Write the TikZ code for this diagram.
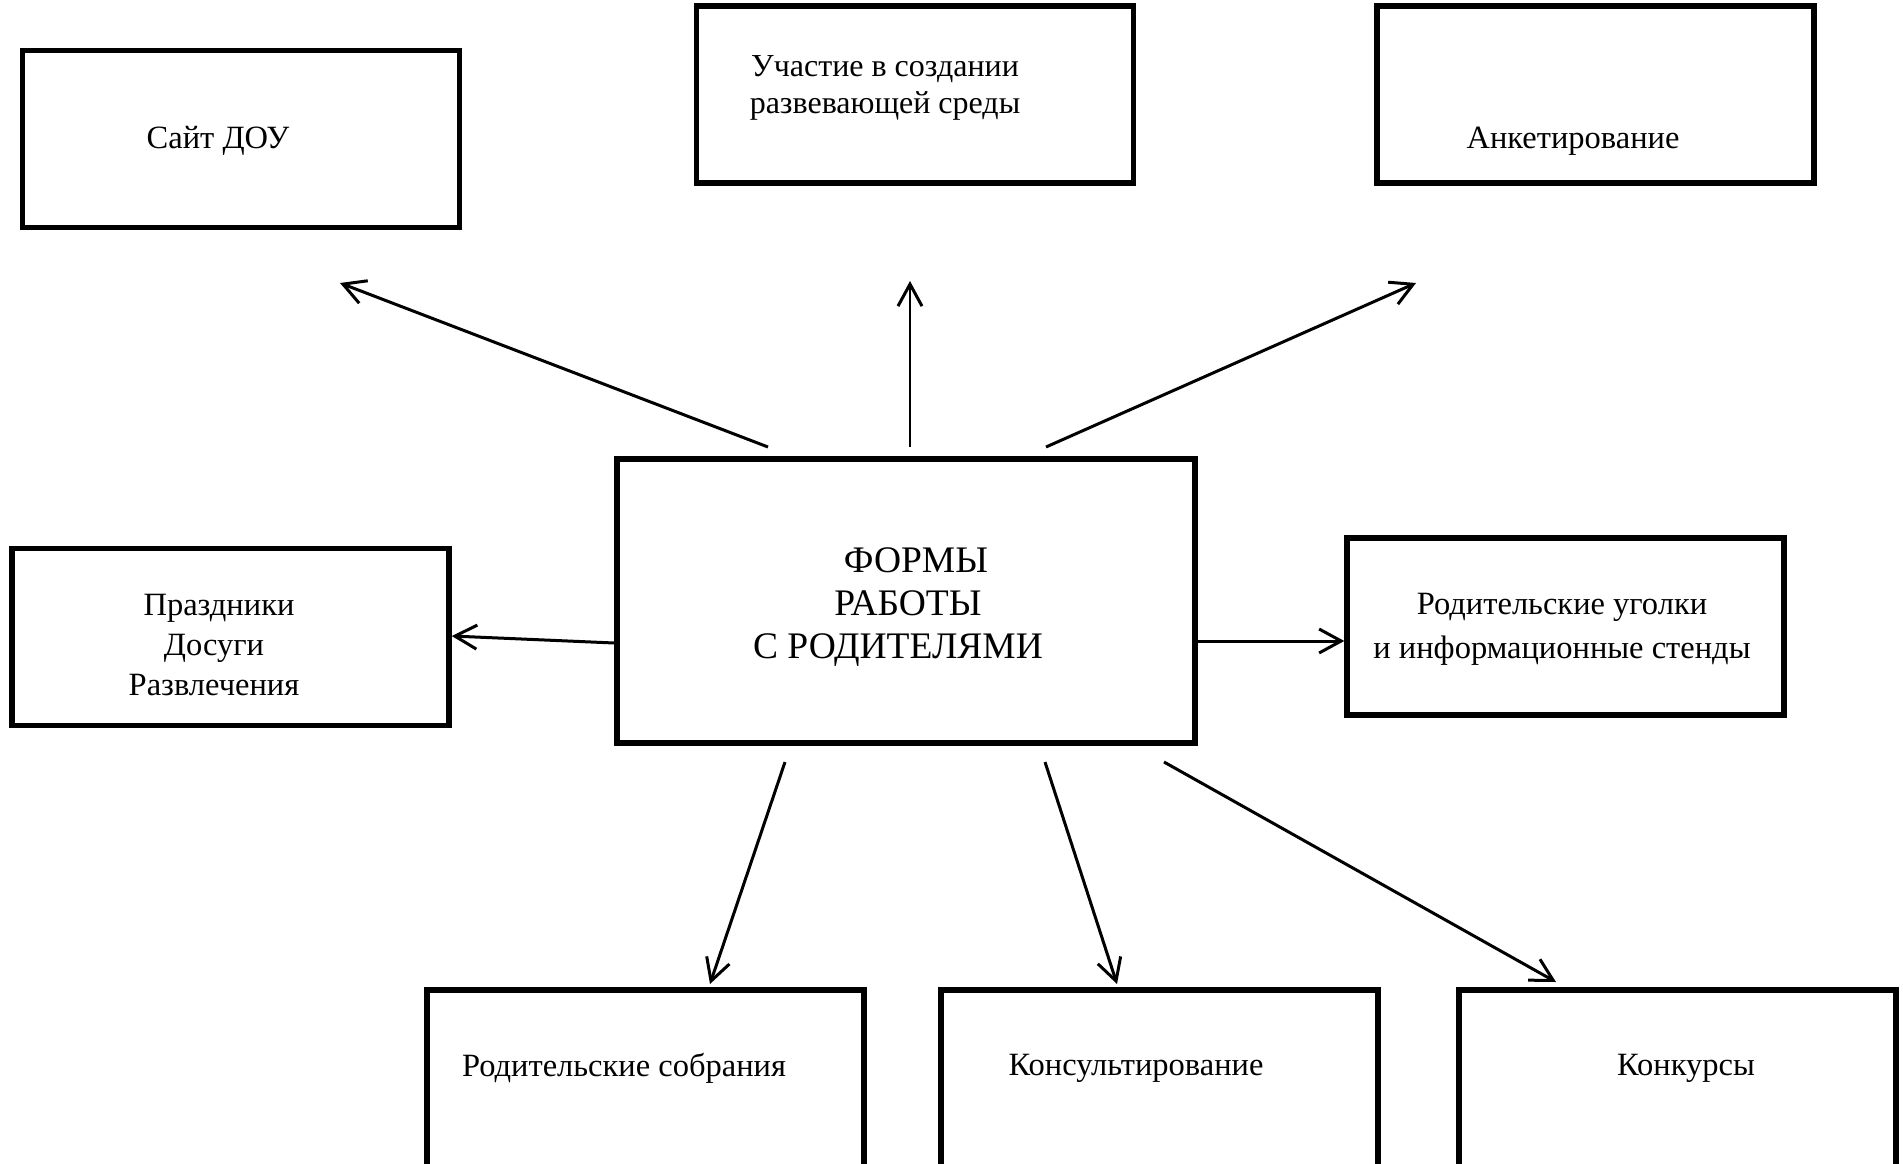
\documentclass[tikz,border=0pt]{standalone}
\usepackage{fontspec}
\setmainfont{Liberation Serif}
\usetikzlibrary{arrows.meta}
\begin{document}
\begin{tikzpicture}[x=1pt,y=-1pt,
  box/.style={draw,line width=5.5pt,inner sep=0pt,minimum width=437pt,minimum height=177pt},
  txt/.style={font=\fontsize{32.5}{40}\selectfont,align=center,inner sep=0pt},
  arr/.style={line width=3pt,-{Straight Barb[length=22pt,width=24pt,line width=3pt]}}]
\clip (0,0) rectangle (1903,1164);
\fill[white] (0,0) rectangle (1903,1164);
% boxes
\node[box] (sait) at (241,139) {};
\node[box] (uch) at (915,94.5) {};
\node[box] (ank) at (1595.5,94.5) {};
\node[box,minimum width=578pt,minimum height=284pt] (c) at (906,601) {};
\node[box] (pr) at (230.5,637) {};
\node[box] (ug) at (1565.5,626.5) {};
\node[box,minimum height=260pt] (sob) at (645.5,1120) {};
\node[box,minimum height=260pt] (kons) at (1159.5,1120) {};
\node[box,minimum height=260pt] (konk) at (1677.5,1120) {};
% texts
\node[txt] (tsait) at (218,141) {Сайт ДОУ};
\node[txt,font=\fontsize{32}{37}\selectfont] (tuch) at (885,87.5) {Участие в создании\\развевающей среды};
\node[txt] (tank) at (1573,141) {Анкетирование};
\node[txt,font=\fontsize{37.5}{43}\selectfont] (tc) at (898,607) {\hspace*{36pt}ФОРМЫ\\\hspace*{20pt}РАБОТЫ\\С РОДИТЕЛЯМИ};
\node[txt] (tpr) at (214,645) {\hspace*{10pt}Праздники\\Досуги\\Развлечения};
\node[txt,font=\fontsize{32.5}{44}\selectfont] (tug) at (1562,629) {Родительские уголки\\и информационные стенды};
\node[txt] (tsob) at (624,1068) {Родительские собрания};
\node[txt] (tkons) at (1136,1068) {Консультирование};
\node[txt] (tkonk) at (1686,1068) {Конкурсы};
% free arrow ends
\coordinate (s1) at (768,447); \coordinate (e1) at (340,283);
\coordinate (s2) at (910,447); \coordinate (e2) at (910,281);
\coordinate (s3) at (1046,447); \coordinate (e3) at (1416,283);
\coordinate (s6) at (785,762); \coordinate (e6) at (710,984);
\coordinate (s7) at (1045,762); \coordinate (e7) at (1117,984);
\coordinate (s8) at (1164,762); \coordinate (e8) at (1556,982);
\draw[arr] (s1) -- (e1);
\draw[arr,line width=2.5pt] (s2) -- (e2);
\draw[arr] (s3) -- (e3);
\draw[arr] (c.west |- 0,643) -- (pr.east |- 0,636);
\draw[arr] (c.east |- 0,641) -- (ug.west |- 0,641);
\draw[arr] (s6) -- (e6);
\draw[arr] (s7) -- (e7);
\draw[arr] (s8) -- (e8);
\end{tikzpicture}
\end{document}
